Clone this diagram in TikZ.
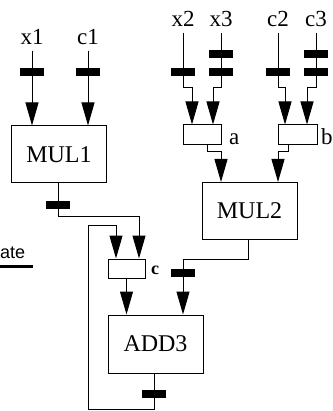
\documentclass[tikz,border=0pt]{standalone}
\usepackage{fontspec}
\setmainfont{Liberation Serif}
\setsansfont{Liberation Sans}
\usetikzlibrary{arrows.meta, positioning, calc}
\tikzset{
	unit/.style={rectangle, draw=black, line width=1pt, minimum width=95pt, minimum height=57pt, inner sep=0pt, font=\fontsize{24}{24}\selectfont},
	mux/.style={rectangle, draw=black, line width=1pt, minimum width=38pt, minimum height=20pt, inner sep=0pt},
	reg/.style={rectangle, fill=black, minimum width=24pt, minimum height=8pt, inner sep=0pt},
	sig/.style={inner sep=0pt, outer ysep=6pt, font=\fontsize{23}{23}\selectfont},
	muxlabel/.style={anchor=base west, inner sep=0pt, font=\fontsize{23}{23}\selectfont},
	wire/.style={line width=1pt},
	inwire/.style={wire, -{Triangle[length=23pt, width=13pt]}},
}
\begin{document}
\begin{tikzpicture}[x=1pt, y=-1pt]
	\useasboundingbox (0,0) rectangle (332,411);
	% functional units and multiplexers
	\node[unit] (mul1) at (59,154.5) {MUL1};
	\node[unit] (mul2) at (249.5,211) {MUL2};
	\node[unit, minimum height=58pt] (add3) at (155.5,344) {ADD3};
	\node[mux] (a) at (202,135) {};
	\node[mux, minimum width=39pt] (b) at (297.5,135) {};
	\node[mux, minimum width=37pt, minimum height=19pt] (c) at (126.5,268.5) {};
	\node[muxlabel] (la) at (229,145) {a};
	\node[muxlabel] (lb) at (321,145) {b};
	\node[muxlabel, font=\fontsize{18}{18}\selectfont\bfseries] (lc) at (151,274) {c};
	% ports
	\coordinate (mul1-i1) at ([xshift=-27pt]mul1.north);
	\coordinate (mul1-i2) at ([xshift=29pt]mul1.north);
	\coordinate (mul2-i1) at ([xshift=-28.5pt]mul2.north);
	\coordinate (mul2-i2) at ([xshift=28.5pt]mul2.north);
	\coordinate (a-i1) at ([xshift=-10pt]a.north);
	\coordinate (a-i2) at ([xshift=11pt]a.north);
	\coordinate (b-i1) at ([xshift=-12.5pt]b.north);
	\coordinate (b-i2) at ([xshift=9.5pt]b.north);
	\coordinate (c-i1) at ([xshift=-10.5pt]c.north);
	\coordinate (c-i2) at ([xshift=12.5pt]c.north);
	\coordinate (add3-i1) at (c.south |- add3.north);
	\coordinate (add3-i2) at ([xshift=27.5pt]add3.north);
	\coordinate (a-o) at ([xshift=5pt]a.south);
	\coordinate (b-o) at ([xshift=-9.5pt]b.south);
	% jog levels
	\coordinate (jogab) at (0,88);
	\coordinate (jogm2) at (0,152);
	\coordinate (jogc) at (0,216);
	\coordinate (jogd) at (0,259);
	\coordinate (looptl) at (88,225);
	\coordinate (loopbl) at (88,409);
	% input signals
	\foreach \name/\x/\y in {x1/32/37, c1/88/37, x2/183/19, x3/221/19, c2/278/19, c3/316/19} {
		\node[sig] (\name) at (\x,\y) {\name};
		\node[reg] (r\name) at (\x,72) {};
		\draw[wire] (\name) -- (r\name);
	}
	\foreach \name in {x3, c3} {
		\node[reg] (s\name) at (\name |- 0,54) {};
	}
	% MUL1 inputs
	\draw[inwire] (rx1) -- (mul1-i1);
	\draw[inwire] (rc1) -- (mul1-i2);
	% multiplexer a and b inputs
	\draw[inwire] (rx2) -- (rx2 |- jogab) -| (a-i1);
	\draw[inwire] (rx3) -- (rx3 |- jogab) -| (a-i2);
	\draw[inwire] (rc2) -- (rc2 |- jogab) -| (b-i1);
	\draw[inwire] (rc3) -- (rc3 |- jogab) -| (b-i2);
	% MUL2 inputs
	\draw[inwire] (a-o) -- (a-o |- jogm2) -| (mul2-i1);
	\draw[inwire] (b-o) -- (b-o |- jogm2) -| (mul2-i2);
	% MUL1 output to c
	\node[reg] (rm1) at (58,205) {};
	\draw[wire] (rm1 |- mul1.south) -- (rm1);
	\draw[inwire] (rm1) -- (rm1 |- jogc) -| (c-i2);
	% MUL2 output to ADD3
	\node[reg] (rm2) at (183,273) {};
	\draw[wire] ([xshift=-1.5pt]mul2.south) -- ([xshift=-1.5pt]mul2.south |- jogd) -| (rm2);
	\draw[inwire] (rm2) -- (add3-i2);
	% c to ADD3
	\draw[inwire] (c) -- (add3-i1);
	% feedback loop
	\node[reg] (ra3) at (154,394) {};
	\draw[wire] (ra3 |- add3.south) -- (ra3);
	\draw[inwire] (ra3) -- (ra3 |- loopbl) -- (loopbl) -- (looptl) -| (c-i1);
	% legend
	\node[anchor=base west, inner sep=0pt, font=\sffamily\fontsize{18}{18}\selectfont] (st) at (0,258) {ate};
	\draw[line width=3pt] (0,266.5) -- (33,266.5);
\end{tikzpicture}
\end{document}
